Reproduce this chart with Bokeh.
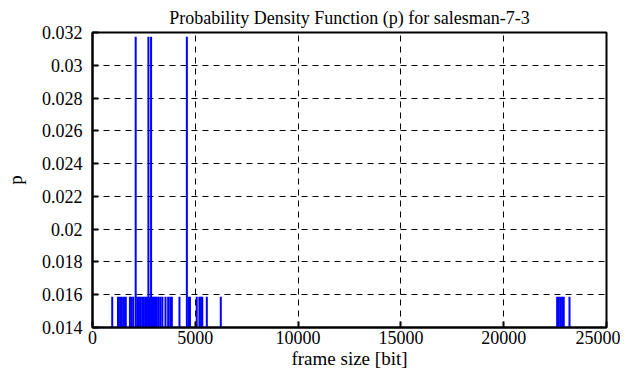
from bokeh.plotting import figure
from bokeh.models import Range1d, FixedTicker, CustomJSTickFormatter
from bokeh.embed import file_html
from bokeh.resources import INLINE

# frame sizes [bit] with probability 1/63 (single occurrences)
single_x = [960, 1240, 1340, 1430, 1530, 1620,
            1820, 1900, 1980, 2180, 2260, 2340, 2420, 2500, 2580, 2650, 2790, 2920, 2990, 3060,
            3130, 3220, 3310, 3400, 3550, 3680, 3780, 3860, 4230, 4680, 4740,
            5070, 5200, 5280, 5340, 5560, 6240,
            22600, 22680, 22760, 22840, 22920, 23200]
single_p = [0.015873] * len(single_x)
# frame sizes with probability 2/63
double_x = [2100, 2720, 2850, 4590]
double_p = [0.031746] * len(double_x)

x_ticks = [0, 5000, 10000, 15000, 20000, 25000]
y_ticks = [0.014, 0.016, 0.018, 0.020, 0.022, 0.024, 0.026, 0.028, 0.030, 0.032]

FONT = "Liberation Serif"

p = figure(width=620, height=371, output_backend="svg", toolbar_location=None,
           x_range=Range1d(0, 25000), y_range=Range1d(0.014, 0.032),
           title="Probability Density Function (p) for salesman-7-3",
           min_border_left=92, min_border_right=14, min_border_top=32, min_border_bottom=35)

p.title.text_font = FONT
p.title.text_font_size = "18px"
p.title.text_font_style = "normal"
p.title.text_color = "black"
p.title.align = "center"
p.title.standoff = 10

xs = single_x + double_x
ps = single_p + double_p
p.segment(x0=xs, y0=[0.0] * len(xs), x1=xs, y1=ps, line_color="#0000ff", line_width=2)

fmt = CustomJSTickFormatter(code="""
    var s = tick.toFixed(3);
    if (Math.abs(tick) >= 1) { return tick.toFixed(0); }
    return s.replace(/0+$/, '');
""")

for ax in p.xaxis:
    ax.ticker = FixedTicker(ticks=x_ticks)
    ax.axis_label = "frame size [bit]"
for ax in p.yaxis:
    ax.ticker = FixedTicker(ticks=y_ticks)
    ax.formatter = fmt
    ax.axis_label = "p"

for ax in p.xaxis + p.yaxis:
    ax.axis_label_text_font = FONT
    ax.axis_label_text_font_size = "19px"
    ax.axis_label_text_font_style = "normal"
    ax.axis_label_text_color = "black"
    ax.major_label_text_font = FONT
    ax.major_label_text_font_size = "18px"
    ax.major_label_text_color = "black"
    ax.axis_line_color = "black"
    ax.axis_line_width = 2
    ax.major_tick_line_color = "black"
    ax.major_tick_line_width = 2
    ax.major_tick_in = 6
    ax.major_tick_out = 0
    ax.minor_tick_line_color = None

p.xaxis.major_label_standoff = 3
p.yaxis.major_label_standoff = 10
p.xaxis.axis_label_standoff = 1
p.yaxis.axis_label_standoff = 13

for ax in p.xgrid + p.ygrid:
    ax.grid_line_color = "black"
    ax.grid_line_dash = "6 5"
    ax.grid_line_width = 1
p.xgrid.ticker = FixedTicker(ticks=x_ticks)
p.ygrid.ticker = FixedTicker(ticks=y_ticks)

p.outline_line_color = "black"
p.outline_line_width = 2
p.outline_line_alpha = 1.0
p.background_fill_color = "white"
p.border_fill_color = "white"

open("out.html", "w").write(file_html(p, INLINE))
